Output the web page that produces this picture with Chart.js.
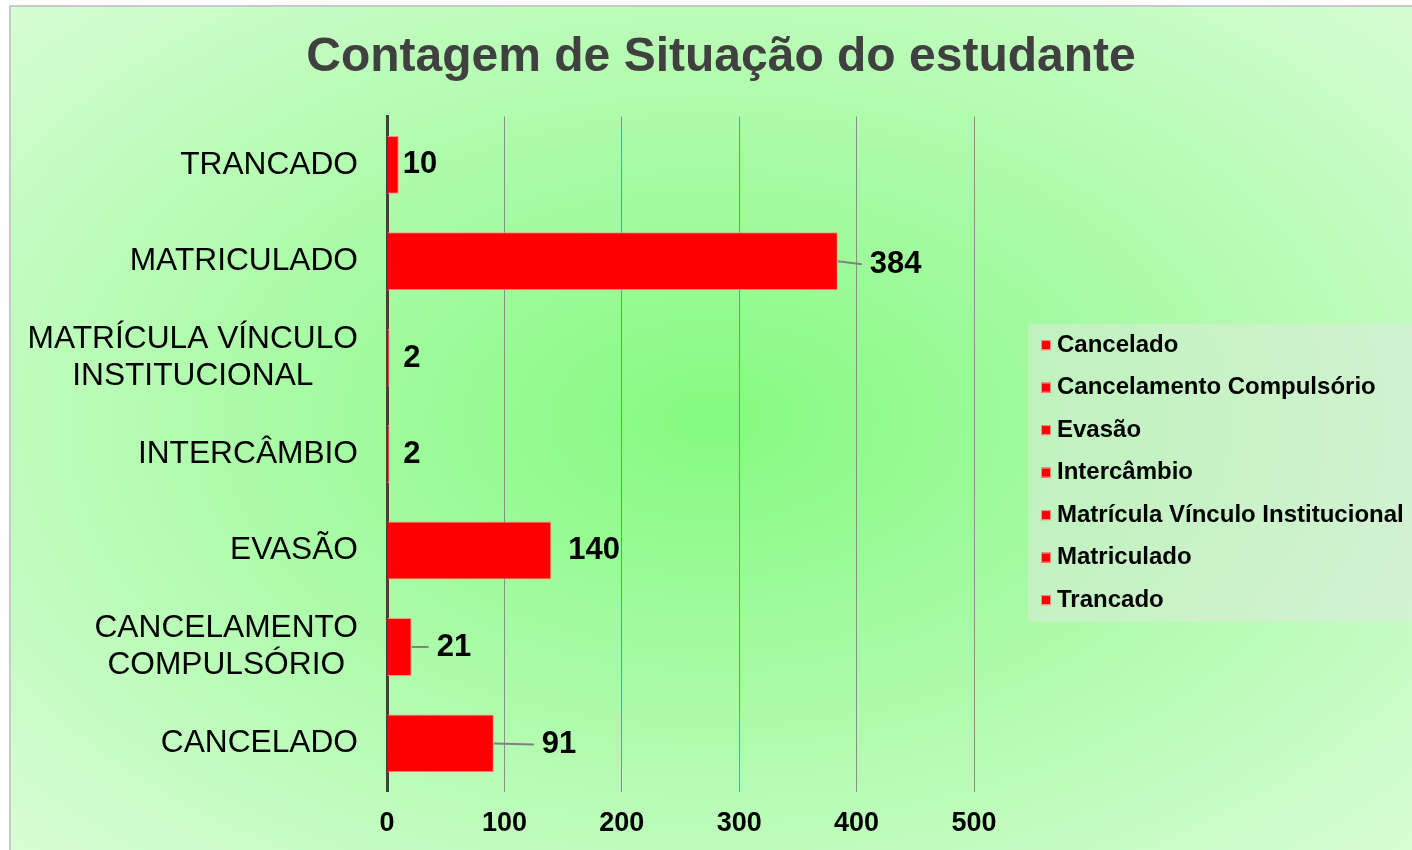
<!DOCTYPE html>
<html>
<head>
<meta charset="utf-8">
<title>Contagem de Situação do estudante</title>
<script src="https://cdn.jsdelivr.net/npm/chart.js@4.4.1/dist/chart.umd.min.js"></script>
<style>
    html, body { margin: 0; padding: 0; overflow: hidden; background: #fff; }
    #chart-box {
        position: absolute;
        left: 9px;
        top: 5px;
        width: 1420px;
        height: 860px;
        border: 2px solid #c9c9c9;
        background: radial-gradient(ellipse farthest-corner at 703px 413px, #84fa80 0%, #dafdd8 100%);
    }
</style>
</head>
<body>
<div id="chart-box"><canvas id="situacao-chart" width="1420" height="860"></canvas></div>
<script>
const FONT = 'Arial, "Liberation Sans", sans-serif';

// bottom to top, same order as the legend
const categories = [
    'CANCELADO',
    'CANCELAMENTO\nCOMPULSÓRIO',
    'EVASÃO',
    'INTERCÂMBIO',
    'MATRÍCULA VÍNCULO\nINSTITUCIONAL',
    'MATRICULADO',
    'TRANCADO'
];
const legendNames = [
    'Cancelado',
    'Cancelamento Compulsório',
    'Evasão',
    'Intercâmbio',
    'Matrícula Vínculo Institucional',
    'Matriculado',
    'Trancado'
];
const counts = [91, 21, 140, 2, 2, 384, 10];
const xTicks = [0, 100, 200, 300, 400, 500];

// where each value label sits, measured from the end of its bar
const labelShift = [48, 25, 17, 14, 14, 32, 4];
const labelRise = [1, 0, 0, 0, 1, 3, 0];

// category names: lines centred on each other, block right-aligned to the axis
const categoryLabels = {
    id: 'categoryLabels',
    afterDraw(chart) {
        const { ctx, chartArea } = chart;
        const yScale = chart.scales.y;
        const right = chartArea.left - 29;
        ctx.save();
        ctx.font = '31.7px ' + FONT;
        ctx.fillStyle = '#000';
        ctx.textAlign = 'center';
        ctx.textBaseline = 'middle';
        categories.forEach((label, i) => {
            const lines = label.split('\n');
            const widest = Math.max(...lines.map((l) => ctx.measureText(l).width));
            const cx = right - widest / 2;
            const cy = yScale.getPixelForValue(i);
            lines.forEach((line, j) => {
                ctx.fillText(line, cx, cy + (j - (lines.length - 1) / 2) * 37);
            });
        });
        ctx.restore();
    }
};

// numbers next to the bars, with a leader line when pulled away
const valueLabels = {
    id: 'valueLabels',
    afterDatasetsDraw(chart) {
        const { ctx } = chart;
        const bars = chart.getDatasetMeta(0).data;
        ctx.save();
        ctx.font = 'bold 31px ' + FONT;
        ctx.fillStyle = '#000';
        ctx.textBaseline = 'middle';
        ctx.strokeStyle = '#808080';
        ctx.lineWidth = 2;
        bars.forEach((bar, i) => {
            const x = bar.x + labelShift[i];
            const y = bar.y + labelRise[i];
            if (labelShift[i] >= 25) {
                ctx.beginPath();
                ctx.moveTo(bar.x, bar.y);
                ctx.lineTo(x - 8, y);
                ctx.stroke();
            }
            ctx.fillText(String(counts[i]), x, y);
        });
        ctx.restore();
    }
};

// one legend entry per category, on a pale panel to the right
const sideLegend = {
    id: 'sideLegend',
    afterDraw(chart) {
        const { ctx, chartArea } = chart;
        const rowH = 42.5;
        const left = chartArea.right + 54;
        const top = (chartArea.top + chartArea.bottom) / 2 - 130.5;
        ctx.save();
        ctx.fillStyle = 'rgba(230, 230, 230, 0.45)';
        ctx.fillRect(left, top, chart.width - left, legendNames.length * rowH + 0.5);
        ctx.font = 'bold 24px ' + FONT;
        ctx.textBaseline = 'middle';
        legendNames.forEach((name, i) => {
            const cy = top + 21.5 + i * rowH;
            ctx.fillStyle = '#ff0000';
            ctx.fillRect(left + 13, cy - 5, 10, 10);
            ctx.strokeStyle = '#ff8f8f';
            ctx.lineWidth = 1;
            ctx.strokeRect(left + 13.5, cy - 4.5, 9, 9);
            ctx.fillStyle = '#000';
            ctx.fillText(name, left + 29, cy);
        });
        ctx.restore();
    }
};

new Chart(document.getElementById('situacao-chart'), {
    type: 'bar',
    data: {
        labels: categories,
        datasets: [{
            label: 'Contagem de Situação do estudante',
            data: counts,
            backgroundColor: '#ff0000',
            borderColor: '#ff8f8f',
            borderWidth: 1,
            categoryPercentage: 1,
            barPercentage: 0.6,
        }],
    },
    options: {
        indexAxis: 'y',
        responsive: false,
        animation: false,
        layout: {
            padding: { top: 0, bottom: 11, left: 0, right: 0 },
        },
        plugins: {
            legend: { display: false },
            tooltip: { enabled: false },
            title: {
                display: true,
                text: 'Contagem de Situação do estudante',
                color: '#404040',
                font: { family: FONT, size: 48, weight: 'bold' },
                padding: { top: 22, bottom: 30 },
            },
        },
        scales: {
            x: {
                min: xTicks[0],
                max: xTicks[xTicks.length - 1],
                ticks: {
                    stepSize: xTicks[1] - xTicks[0],
                    color: '#000',
                    padding: 16,
                    font: { family: FONT, size: 27, weight: 'bold' },
                },
                grid: {
                    color: (c) => (c.tick && c.tick.value === 0 ? 'transparent' : '#8c8c8c'),
                    lineWidth: 1,
                    drawTicks: false,
                },
                border: { display: false },
                // leave room on the right for the legend panel
                afterFit(scale) {
                    scale.paddingRight = 457;
                },
            },
            y: {
                reverse: true,
                grid: { display: false },
                border: { color: '#404040', width: 3 },
                ticks: { display: false },
                afterFit(scale) {
                    scale.width = 376;
                },
            },
        },
    },
    plugins: [categoryLabels, valueLabels, sideLegend],
});
</script>
</body>
</html>
